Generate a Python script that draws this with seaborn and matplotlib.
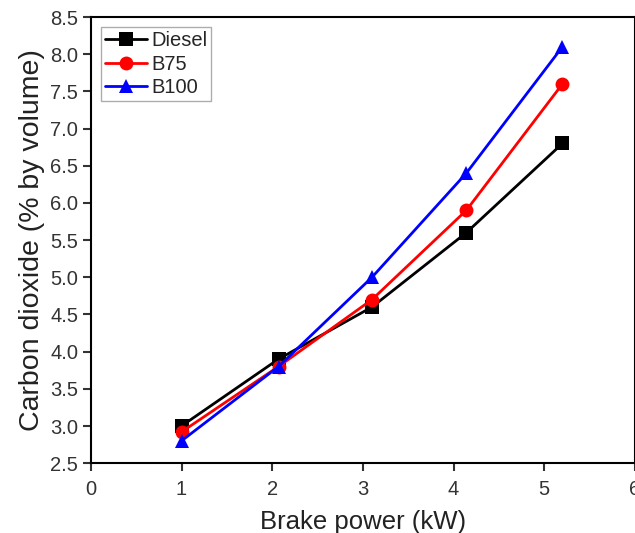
import pandas as pd
import matplotlib
matplotlib.use("Agg")
import matplotlib.pyplot as plt
import seaborn as sns

# data
power = [1.0, 2.07, 3.1, 4.14, 5.2]
diesel = [3.0, 3.9, 4.6, 5.6, 6.8]
b75 = [2.92, 3.8, 4.7, 5.9, 7.6]
b100 = [2.8, 3.8, 5.0, 6.4, 8.1]
fuels = ["Diesel", "B75", "B100"]

df = pd.DataFrame({
    "power": power * 3,
    "co2": diesel + b75 + b100,
    "fuel": [f for f in fuels for _ in power],
})

sns.set_style("ticks")
plt.rcParams['font.family'] = ['Liberation Sans', 'DejaVu Sans']

fig, ax = plt.subplots(figsize=(6.35, 5.33), dpi=100)
fig.subplots_adjust(left=0.143, right=1.0, bottom=0.131, top=0.968)

sns.lineplot(data=df, x="power", y="co2", hue="fuel", style="fuel",
             palette={"Diesel": "black", "B75": "red", "B100": "blue"},
             markers={"Diesel": "s", "B75": "o", "B100": "^"},
             dashes=False, markersize=10, linewidth=2, markeredgewidth=0,
             ax=ax)

ax.set_xlim(0, 6)
ax.set_ylim(2.5, 8.5)
ax.set_xticks(range(0, 7))
ax.set_yticks([2.5 + 0.5 * i for i in range(13)])
ax.set_yticklabels([f"{2.5 + 0.5 * i:.1f}" for i in range(13)])
ax.tick_params(direction="out", length=6, width=1.5, labelsize=14.5, colors="#333333")
ax.tick_params(axis="x", pad=6)
ax.tick_params(axis="y", pad=3)
for s in ax.spines.values():
    s.set_linewidth(1.5)
    s.set_color("black")

ax.set_xlabel("Brake power (kW)", fontsize=18.5, labelpad=8, color="#222222")
ax.set_ylabel("Carbon dioxide (% by volume)", fontsize=20.5, labelpad=4, color="#222222")

leg = ax.legend(loc="upper left", fontsize=14.5, frameon=True, fancybox=False,
                edgecolor="#999999", handlelength=2.1, handletextpad=0.2,
                borderpad=0.2, labelspacing=0.22, borderaxespad=0.5)
leg.set_title(None)

fig.savefig("out.png", dpi=100)
